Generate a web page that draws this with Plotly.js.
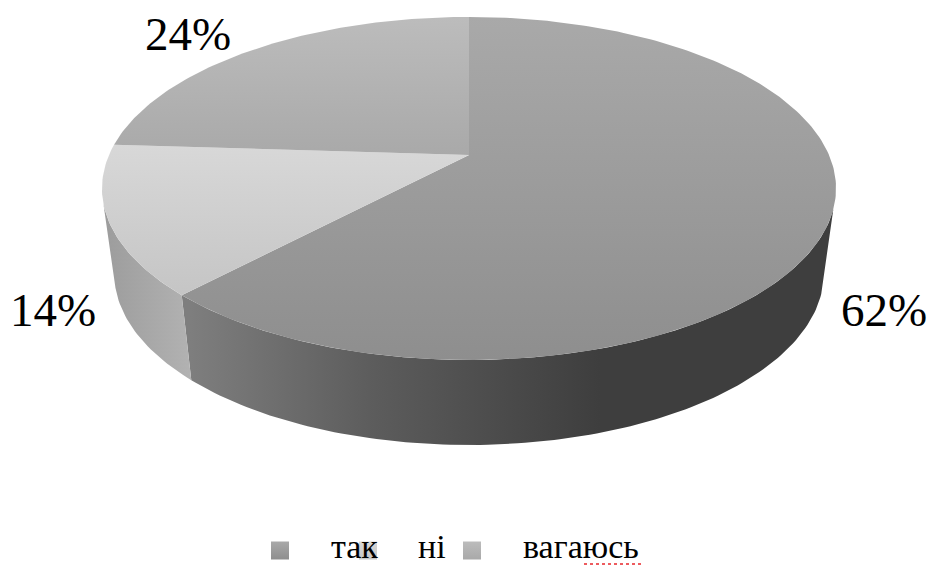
<!DOCTYPE html>
<html>
<head>
<meta charset="utf-8">
<script src="https://cdn.plot.ly/plotly-3.0.1.min.js"></script>
<style>html,body{margin:0;padding:0;background:#fff}#chart{width:931px;height:566px}</style>
</head>
<body>
<div id="chart"></div>
<script>
// Survey answers, as percentages of respondents.
const categories = ['так', 'ні', 'вагаюсь'];
const shares = [62, 14, 24];

// Vertical shading of each top face and of the legend keys.
const topShades = [['#a9a9a9', '#8e8e8e'], ['#d8d8d8', '#c5c5c5'], ['#bcbcbc', '#a9a9a9']];
// Horizontal shading of the visible wall of each slice.
const wallScales = [
  [[0, '#7e7e7e'], [0.45, '#5c5c5c'], [1, '#3e3e3e']],
  [[0, '#9c9c9c'], [1, '#b2b2b2']]
];

// Perspective disc: a circle seen obliquely, with its centre off the ellipse middle.
const tilt = 0.195;
const topFace = {cx: 469, cy: 155, a: 360, b: 165};
const baseFace = {cx: 469, cy: 240, a: 348, b: 165};
// Angles (clockwise from 12 o'clock) where the wall silhouette meets the disc.
const wallRight = 108, wallLeft = 254;

function project(face, deg) {
  const t = deg * Math.PI / 180, s = Math.sin(t), c = Math.cos(t), d = 1 + tilt * c;
  return [face.cx + face.a * s / d, face.cy - face.b * c / d];
}
function arc(face, from, to) {
  const pts = [], n = Math.max(2, Math.ceil(Math.abs(to - from)));
  for (let i = 0; i <= n; i++) pts.push(project(face, from + (to - from) * i / n));
  return pts;
}
const total = shares.reduce((p, v) => p + v, 0);
let run = 0;
const spans = shares.map(v => { const s = [run, run + v / total * 360]; run = s[1]; return s; });

const traces = [];
const base = {type: 'scatter', mode: 'lines', fill: 'toself', line: {width: 0}, hoverinfo: 'skip', showlegend: false};

// Walls first, so the top faces sit over them.
[[Math.max(spans[0][0], wallRight), spans[0][1]], [spans[1][0], Math.min(spans[1][1], wallLeft)]].forEach((w, i) => {
  const pts = arc(topFace, w[0], w[1]).concat(arc(baseFace, w[1], w[0]));
  traces.push(Object.assign({}, base, {
    x: pts.map(p => p[0]), y: pts.map(p => p[1]),
    fillcolor: wallScales[i][0][1],
    fillgradient: {type: 'horizontal', colorscale: wallScales[i],
      start: i === 0 ? 190 : 103, stop: i === 0 ? 600 : 191}
  }));
});

// Top faces, each shaded over its own height.
spans.forEach((sp, i) => {
  const pts = arc(topFace, sp[0], sp[1]);
  pts.push([topFace.cx, topFace.cy]);
  const ys = pts.map(p => p[1]);
  traces.push(Object.assign({}, base, {
    x: pts.map(p => p[0]), y: ys,
    fillcolor: topShades[i][0],
    fillgradient: {type: 'vertical', start: Math.min(...ys), stop: Math.max(...ys),
      colorscale: [[0, topShades[i][0]], [1, topShades[i][1]]]}
  }));
});

// Legend keys, placed by hand along the bottom row.
const keyX = [280, 368, 472];
const labelX = [354, 432, 581];
traces.push({
  type: 'scatter', mode: 'markers', x: keyX, y: keyX.map(() => 550.5), hoverinfo: 'skip', showlegend: false,
  marker: {symbol: 'square', size: 18, color: topShades.map(s => s[0]),
    gradient: {type: 'vertical', color: topShades.map(s => s[1])}, line: {width: 0}}
});

// Proofing underline beneath the last legend word.
traces.push({type: 'scatter', mode: 'lines', x: [584, 641], y: [564, 564], hoverinfo: 'skip', showlegend: false,
  line: {color: '#e8262a', width: 1.5, dash: 'dot'}});

const labelPos = [[884, 310], [53, 310], [188, 34]];
const annotations = shares.map((v, i) => ({
  x: labelPos[i][0], y: labelPos[i][1], xref: 'x', yref: 'y', text: v + '%', showarrow: false,
  font: {family: 'Liberation Serif', size: 47, color: '#000'}
})).concat(categories.map((c, i) => ({
  x: labelX[i], y: 546, xref: 'x', yref: 'y', text: c, showarrow: false,
  font: {family: 'Liberation Serif', size: 34, color: '#000'}
})));

Plotly.newPlot('chart', traces, {
  width: 931, height: 566, margin: {l: 0, r: 0, t: 0, b: 0},
  paper_bgcolor: '#fff', plot_bgcolor: '#fff', showlegend: false,
  xaxis: {range: [0, 931], visible: false, fixedrange: true},
  yaxis: {range: [566, 0], visible: false, fixedrange: true},
  annotations
}, {displayModeBar: false, staticPlot: true});
</script>
</body>
</html>
